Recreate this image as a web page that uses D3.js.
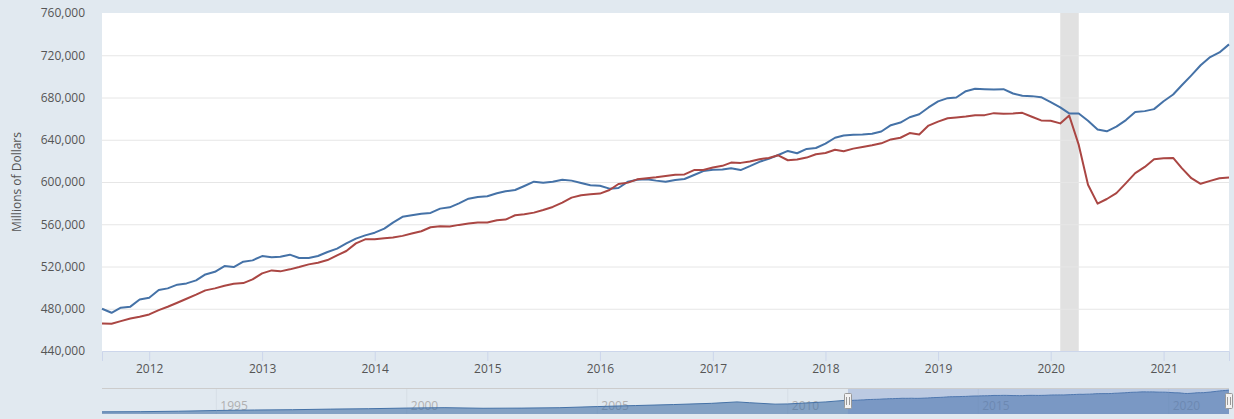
<!DOCTYPE html>
<html><head><meta charset="utf-8">
<script src="https://cdn.jsdelivr.net/npm/d3@7"></script>
<style>
html,body{margin:0;padding:0;background:#e1e9f0;}
svg{display:block;font-family:"Open Sans",sans-serif;}
</style>
</head><body>
<svg id="chart" width="1234" height="419"></svg>
<script>
// ---------- DATA ----------
const startMonth = "2011-08-01";
const blueValues = [480000,476200,481000,482000,488800,490400,497700,499300,502800,504000,
506900,512500,515000,520400,519500,524600,525800,529900,528700,529300,
531200,528000,528000,529900,533700,536900,541900,546400,549500,552000,
555800,561600,567000,568500,570000,570700,574800,576000,579800,584200,
585800,586500,589300,591200,592400,596200,600300,599400,600300,602200,
601300,599100,596900,596500,593700,594300,600300,602200,602500,601300,
600300,601900,602800,606600,610300,611600,611900,613100,611300,615000,
619100,621900,625600,629400,627200,631300,632200,636300,641900,644100,
644700,645000,645600,647800,653800,656300,661300,664100,670600,676300,
679400,680000,686000,688200,687900,687500,687900,683800,681600,681300,
680300,675600,670600,664900,664900,658000,649800,648000,652400,658600,
666200,667100,669000,676500,682800,691600,701000,710500,718300,722700,730300];
const redValues = [466000,465800,468300,470800,472400,474600,478700,481900,485700,489500,
493300,497400,499300,501800,503700,504300,507800,513500,516300,515400,
517300,519500,522000,523600,526100,530600,534700,541900,545700,545700,
546700,547400,549000,551200,553400,557200,558100,557800,559400,560600,
561600,561600,563800,564400,568500,569400,571000,573500,576400,580500,
585200,587400,588300,589000,592400,598100,599400,602500,603500,604400,
605600,606900,607200,611300,611300,613800,615300,618400,618100,619400,
621600,622800,625300,620600,621300,623100,626300,627500,630600,629100,
631600,633100,634700,636600,640300,641900,646300,645000,653400,657200,
660300,661100,662100,663300,663300,665200,664600,664900,665500,661800,
658300,658000,655500,663000,635100,597400,579500,583900,589500,598900,
608400,614300,621600,622500,622800,613100,603600,598300,601100,603600,604300];
const yTicks = [440000,480000,520000,560000,600000,640000,680000,720000,760000];
const xTickYears = [2012,2013,2014,2015,2016,2017,2018,2019,2020,2021];
const recession = ["2020-02-01","2020-04-01"];
// navigator (full history of the first series, before the visible window)
const navDates = ["1992-01-01","1993-01-01","1994-01-01","1995-01-01","1996-01-01","1997-01-01",
"1998-01-01","1999-01-01","2000-01-01","2001-01-01","2002-01-01","2003-01-01","2004-01-01",
"2005-01-01","2006-01-01","2007-01-01","2008-01-01","2008-09-01","2009-01-01","2009-09-01",
"2010-01-01","2011-01-01","2011-07-01"];
const navValues = [195000,199000,210000,228000,240000,248000,262000,272000,288000,298000,
283000,287000,297000,325000,350000,375000,405000,440000,420000,385000,390000,440000,478000];
const navTickYears = [1995,2000,2005,2010,2015,2020];
const navStart = "1992-01-01";

// ---------- LAYOUT ----------
const svg = d3.select("#chart");
const L = 102, R = 1229, T = 13, B = 351;
const NT = 388, NB = 414;
const parse = d3.timeParse("%Y-%m-%d");
const months = d3.timeMonth.range(parse(startMonth), d3.timeMonth.offset(parse(startMonth), blueValues.length));
const blue = months.map((d,i)=>({date:d, v:blueValues[i]}));
const red = months.map((d,i)=>({date:d, v:redValues[i]}));

const x = d3.scaleTime().domain([months[0], months[months.length-1]]).range([L,R]);
const y = d3.scaleLinear().domain([440000,760000]).range([B,T]);

// plot background
svg.append("rect").attr("x",L).attr("y",T).attr("width",R-L).attr("height",B-T).attr("fill","#ffffff");

// recession band
svg.append("rect")
  .attr("x", x(parse(recession[0]))).attr("y",T)
  .attr("width", x(parse(recession[1])) - x(parse(recession[0])))
  .attr("height", B-T).attr("fill","#e1e1e1");

// y grid + labels
const yAxis = svg.append("g").attr("transform",`translate(${L},0)`)
  .call(d3.axisLeft(y).tickValues(yTicks).tickSize(-(R-L)).tickPadding(17).tickFormat(d3.format(",")));
yAxis.select(".domain").remove();
yAxis.selectAll(".tick line").attr("stroke","#e6e6e6").attr("stroke-width",1)
  .attr("display",d=> (d===440000||d===760000)?"none":null);
yAxis.selectAll(".tick text").attr("fill","#555").attr("font-size",12).attr("font-family","Open Sans");

svg.append("text")
  .attr("transform",`translate(16,${(T+B)/2}) rotate(-90)`)
  .attr("text-anchor","middle").attr("dominant-baseline","central")
  .attr("fill","#555").attr("font-size",12).text("Millions of Dollars");

// x axis
const xAxis = svg.append("g").attr("transform",`translate(0,${B})`)
  .call(d3.axisBottom(x).tickValues(xTickYears.map(yr=>new Date(yr,0,1))).tickSize(10).tickFormat(d3.timeFormat("%Y")));
xAxis.select(".domain").attr("stroke","#ccd6eb");
xAxis.selectAll(".tick line").attr("stroke","#ccd6eb");
xAxis.selectAll(".tick text").attr("fill","#555").attr("font-size",12).attr("font-family","Open Sans");

// lines
const line = d3.line().x(d=>x(d.date)).y(d=>y(d.v));
svg.append("path").datum(blue).attr("d",line).attr("fill","none")
  .attr("stroke","#4572a7").attr("stroke-width",2).attr("stroke-linejoin","round");
svg.append("path").datum(red).attr("d",line).attr("fill","none")
  .attr("stroke","#aa4643").attr("stroke-width",2).attr("stroke-linejoin","round");

// ---------- NAVIGATOR ----------
const navData = navDates.map((d,i)=>({date:parse(d), v:navValues[i]})).concat(blue);
const nx = d3.scaleTime().domain([parse(navStart), months[months.length-1]]).range([L,R]);
const nMin = d3.min(navData,d=>d.v), nMax = d3.max(navData,d=>d.v), span = nMax-nMin;
const ny = d3.scaleLinear().domain([nMin-0.1*span, nMax+0.1*span]).range([NB,NT]);

const nav = svg.append("g");
// grid lines + labels (under area)
navTickYears.forEach(yr=>{
  const tx = nx(new Date(yr,0,1));
  nav.append("line").attr("x1",tx).attr("x2",tx).attr("y1",NT).attr("y2",NB)
    .attr("stroke","#d6dee6").attr("stroke-width",1);
  nav.append("text").attr("x",tx+4).attr("y",409.5).attr("fill","#b0b0b0")
    .attr("font-size",12).text(yr);
});
// area
nav.append("path").datum(navData)
  .attr("d", d3.area().x(d=>nx(d.date)).y0(NB).y1(d=>ny(d.v)))
  .attr("fill","rgba(69,114,167,0.6)");
nav.append("path").datum(navData)
  .attr("d", d3.line().x(d=>nx(d.date)).y(d=>ny(d.v)))
  .attr("fill","none").attr("stroke","#4572a7").attr("stroke-width",1);
// selection mask
const selL = nx(months[0]), selR = nx(months[months.length-1]);
nav.append("rect").attr("x",selL).attr("y",NT).attr("width",selR-selL).attr("height",NB-NT)
  .attr("fill","rgba(102,133,194,0.3)");
// outline
nav.append("line").attr("x1",L).attr("x2",R).attr("y1",NT+0.5).attr("y2",NT+0.5)
  .attr("stroke","#cccccc").attr("stroke-width",1);
// handles
[selL, selR].forEach(hx=>{
  const g = nav.append("g").attr("transform",`translate(${Math.round(hx)},0)`);
  g.append("rect").attr("x",-3.5).attr("y",393.5).attr("width",7).attr("height",15)
    .attr("rx",1).attr("fill","#f2f2f2").attr("stroke","#999").attr("stroke-width",1);
  g.append("line").attr("x1",-1.5).attr("x2",-1.5).attr("y1",397).attr("y2",405).attr("stroke","#999");
  g.append("line").attr("x1",1.5).attr("x2",1.5).attr("y1",397).attr("y2",405).attr("stroke","#999");
});
</script>
</body></html>
